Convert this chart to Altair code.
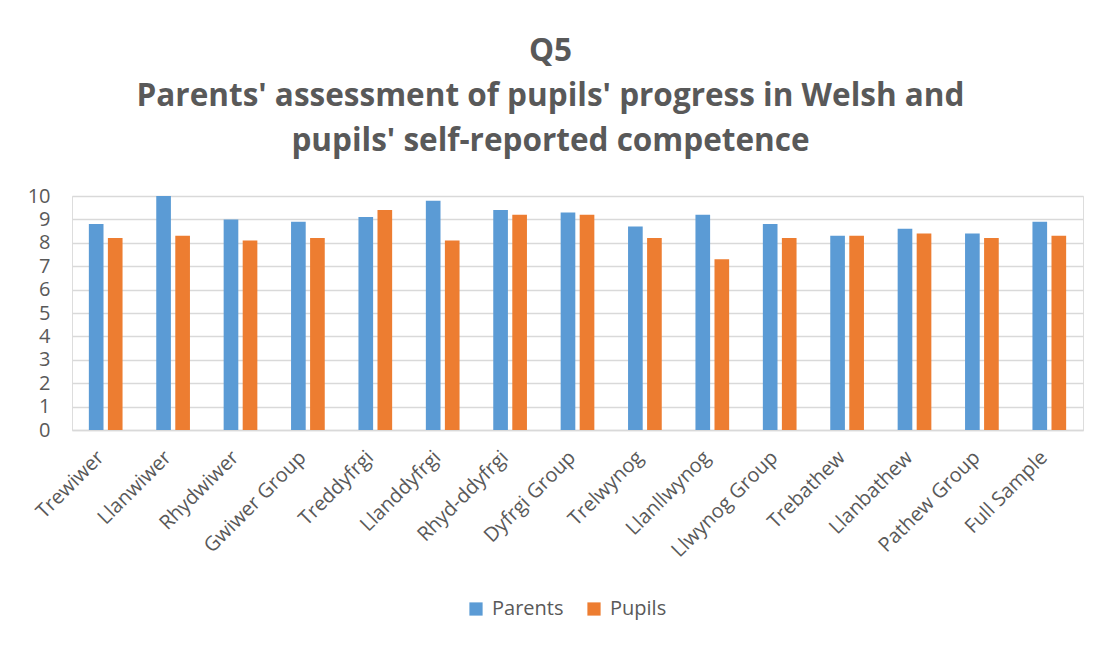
import altair as alt
import pandas as pd

categories = ["Trewiwer", "Llanwiwer", "Rhydwiwer", "Gwiwer Group", "Treddyfrgi",
              "Llanddyfrgi", "Rhyd-ddyfrgi", "Dyfrgi Group", "Trelwynog", "Llanllwynog",
              "Llwynog Group", "Trebathew", "Llanbathew", "Pathew Group", "Full Sample"]
parents = [8.8, 10.0, 9.0, 8.9, 9.1, 9.8, 9.4, 9.3, 8.7, 9.2, 8.8, 8.3, 8.6, 8.4, 8.9]
pupils = [8.2, 8.3, 8.1, 8.2, 9.4, 8.1, 9.2, 9.2, 8.2, 7.3, 8.2, 8.3, 8.4, 8.2, 8.3]
series = ["Parents", "Pupils"]
colors = ["#5B9BD5", "#ED7D31"]

rows = []
for c, p, q in zip(categories, parents, pupils):
    rows.append({"cat": c, "series": "Parents", "value": p})
    rows.append({"cat": c, "series": "Pupils", "value": q})
df = pd.DataFrame(rows)

FONT = "Open Sans"
GREY = "#595959"

chart = alt.Chart(df).mark_bar().encode(
    x=alt.X("cat:N", sort=categories,
            scale=alt.Scale(paddingInner=0.5, paddingOuter=0.25),
            axis=alt.Axis(title=None, labelAngle=-45, labelAlign="right", labelBaseline="middle",
                          labelFontSize=20, labelFont=FONT, labelColor=GREY, labelPadding=24,
                          labelOffset=-5,
                          ticks=False, domainColor="#d9d9d9", domainWidth=1.5, labelLimit=300)),
    xOffset=alt.XOffset("series:N", sort=series, scale=alt.Scale(paddingInner=0.23)),
    y=alt.Y("value:Q", scale=alt.Scale(domain=[0, 10], nice=False),
            axis=alt.Axis(title=None, values=list(range(0, 11)), labelFontSize=20, labelFont=FONT,
                          labelColor=GREY, labelPadding=22, ticks=False, domain=False,
                          gridColor="#d9d9d9", gridWidth=1.3)),
    color=alt.Color("series:N", sort=series, scale=alt.Scale(domain=series, range=colors),
                    legend=alt.Legend(title=None, orient="none", direction="horizontal",
                                      legendX=394, legendY=403, symbolType="square", symbolSize=175,
                                      symbolStrokeWidth=0, labelFontSize=20, labelFont=FONT,
                                      labelColor=GREY, columnPadding=20, labelOffset=6)),
).properties(
    width=1011, height=234,
    title=alt.TitleParams(
        text=["Q5", "Parents' assessment of pupils' progress in Welsh and",
              "pupils' self-reported competence"],
        font=FONT, fontSize=31.5, fontWeight="bold", color=GREY, lineHeight=45,
        anchor="middle", offset=29, dx=-27),
    autosize=alt.AutoSizeParams(type="none"),
    padding={"left": 64, "top": 188, "right": 10, "bottom": 208},
).configure_view(stroke=None).configure(background="white")

chart.save("out.html", embed_options={"renderer": "svg", "actions": False})
